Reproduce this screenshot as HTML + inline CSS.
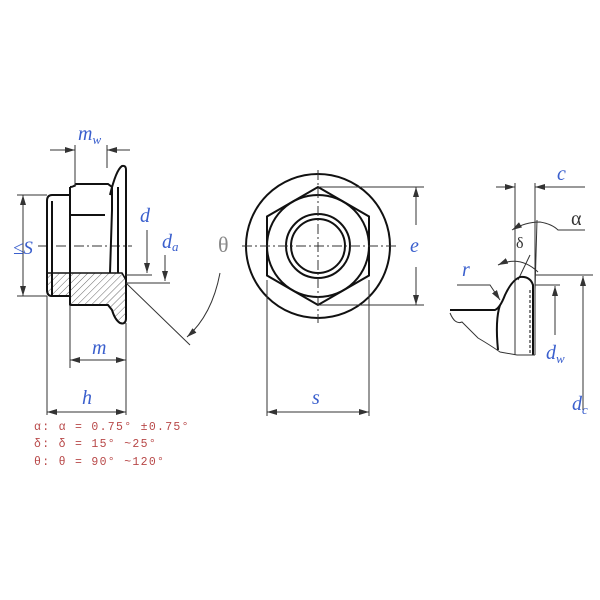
<!DOCTYPE html>
<html><head><meta charset="utf-8"><style>
body{margin:0;background:#fff}
svg{display:block}
.l{stroke:#111;stroke-width:2;fill:none}
.t{stroke:#333;stroke-width:1;fill:none}
.c{stroke:#333;stroke-width:1;fill:none;stroke-dasharray:10,3,2,3}
.lb{font-family:"Liberation Serif",serif;font-style:italic;fill:#3a5fcd;font-size:20px}
.r{font-family:"Liberation Mono",monospace;fill:#b84848;font-size:11.5px;letter-spacing:1.3px}
</style></head><body>
<svg width="600" height="600" viewBox="0 0 600 600">
<defs>
<marker id="a" markerWidth="10" markerHeight="6" refX="10" refY="3" orient="auto-start-reverse" markerUnits="userSpaceOnUse"><path d="M0,0L10,3L0,6z" fill="#333"/></marker>
<pattern id="h" width="5" height="5" patternUnits="userSpaceOnUse" patternTransform="rotate(45)"><line x1="0" y1="0" x2="0" y2="5" stroke="#444" stroke-width="0.8"/></pattern>
</defs>
<!-- LEFT VIEW -->
<path class="c" d="M38 246H132"/>
<path class="l" d="M70 296H52Q47 296 47 290V201Q47 195 52 195H70"/>
<path class="l" d="M52 201V273M70 187V305"/>
<path class="l" d="M70 187Q74 187 76 184H108L112 187V210L110 273M70 215H105"/>
<path class="l" d="M110 195Q116 170 122 166Q126 165 126 170V318Q126 325 120 323Q115 320 112 310L108 305H70"/>
<path class="l" d="M118 187V273"/>
<path d="M47 273H122L126 280V318Q126 325 120 323Q115 320 112 310L108 305H70V296H52Q47 296 47 290Z" fill="url(#h)" stroke="#111" stroke-width="1.6"/>
<path class="l" d="M52 273V296H70V273"/>
<path class="t" d="M75 187V145M107 168V145M50 150H75M107 150H130"/>
<path class="t" d="M55 150H75" marker-end="url(#a)"/><path class="t" d="M128 150H107" marker-end="url(#a)"/>
<text class="lb" x="78" y="140">m<tspan font-size="13" dy="4">w</tspan></text>
<path class="t" d="M17 195H47M17 296H47"/>
<path class="t" d="M23 195V296" marker-start="url(#a)" marker-end="url(#a)"/>
<text class="lb" x="13" y="254" style="font-size:19px">≤S</text>
<text class="lb" x="140" y="222">d</text>
<path class="t" d="M147 230V273" marker-end="url(#a)"/><path class="t" d="M126 275H152"/>
<text class="lb" x="162" y="248">d<tspan font-size="13" dy="3">a</tspan></text>
<path class="t" d="M165 255V281" marker-end="url(#a)"/><path class="t" d="M126 283H170"/>
<text x="218" y="252" style="font-family:'Liberation Serif',serif;font-size:22px;fill:#888">θ</text>
<path class="t" d="M126 283L190 345"/>
<path class="t" d="M220 273Q212 315 187 337" marker-end="url(#a)"/>
<path class="t" d="M70 305V368M126 323V415M47 296V415"/>
<text class="lb" x="92" y="354">m</text>
<path class="t" d="M70 360H126" marker-start="url(#a)" marker-end="url(#a)"/>
<text class="lb" x="82" y="404">h</text>
<path class="t" d="M47 412H126" marker-start="url(#a)" marker-end="url(#a)"/>
<!-- CENTER VIEW -->
<circle class="l" cx="318" cy="246" r="72"/>
<polygon class="l" points="318,187 369,216.5 369,275.5 318,305 267,275.5 267,216.5"/>
<circle class="l" cx="318" cy="246" r="51"/>
<circle class="l" cx="318" cy="246" r="32"/>
<circle class="l" cx="318" cy="246" r="27"/>
<path class="c" d="M242 246H396M318 170V323"/>
<path class="t" d="M318 187H424M318 305H424"/>
<path class="t" d="M416 187V225" marker-start="url(#a)"/><path class="t" d="M416 267V305" marker-end="url(#a)"/>
<text class="lb" x="410" y="252">e</text>
<path class="t" d="M267 280V416M369 280V416"/>
<path class="t" d="M267 412H369" marker-start="url(#a)" marker-end="url(#a)"/>
<text class="lb" x="312" y="404">s</text>
<!-- RIGHT DETAIL -->
<path class="t" d="M515 183V355M535 183V355"/>
<path class="t" d="M496 187H515" marker-end="url(#a)"/><path class="t" d="M585 187H535" marker-end="url(#a)"/>
<text class="lb" x="557" y="180">c</text>
<path class="t" d="M537 220L535 290"/>
<path class="t" d="M512 230Q525 222 540 222Q552 224 558 230H585" marker-start="url(#a)"/>
<text x="571" y="225" style="font-family:'Liberation Serif',serif;font-size:20px;fill:#333">α</text>
<text x="516" y="248" style="font-family:'Liberation Serif',serif;font-size:16px;fill:#333">δ</text>
<path class="t" d="M498 265Q520 255 538 272" marker-start="url(#a)"/>
<path class="t" d="M518 280L530 255"/>
<path class="l" d="M450 310H495Q500 308 505 295Q512 280 520 277Q530 276 533 285V355"/>
<path class="l" d="M500 305Q495 320 498 350"/>
<path d="M530 290V355" stroke="#333" stroke-width="1.2" stroke-dasharray="3,2"/>
<path class="t" d="M450 313Q455 325 462 322Q470 330 478 338Q490 345 500 352L517 355H535"/>
<path class="t" d="M535 275H593M535 285H560"/>
<path class="t" d="M583 410V276" marker-end="url(#a)"/>
<path class="t" d="M555 335V286" marker-end="url(#a)"/>
<text class="lb" x="546" y="359">d<tspan font-size="13" dy="4">w</tspan></text>
<text class="lb" x="572" y="410">d<tspan font-size="13" dy="4">c</tspan></text>
<text class="lb" x="462" y="276">r</text>
<path class="t" d="M457 285H490L500 300" marker-end="url(#a)"/>
<!-- NOTES -->
<text class="r" x="34" y="430">α: α = 0.75° ±0.75°</text>
<text class="r" x="34" y="447">δ: δ = 15° ~25°</text>
<text class="r" x="34" y="465">θ: θ = 90° ~120°</text>
</svg>
</body></html>
